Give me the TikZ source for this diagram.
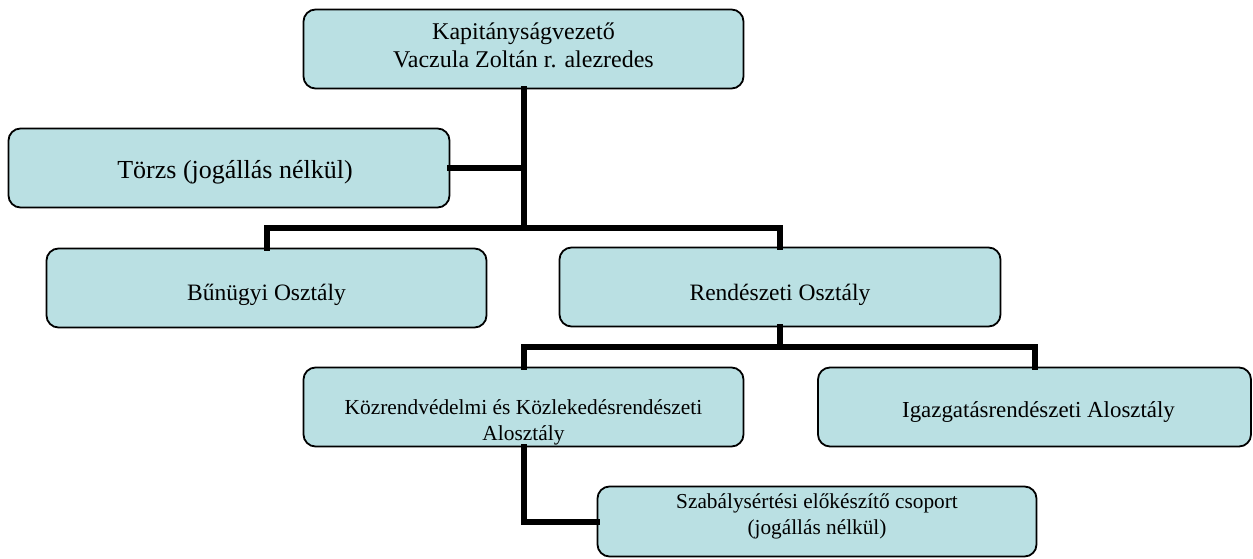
\documentclass[tikz,border=0pt]{standalone}
\usepackage{fontspec}
\setmainfont{Liberation Serif}
\definecolor{boxfill}{RGB}{186,224,227}
\tikzset{
  orgbox/.style={draw=black, line width=1.8pt, fill=boxfill, rounded corners=12pt,
    inner sep=0pt, minimum height=79pt},
  lbl/.style={inner sep=0pt, align=center, anchor=center},
  conn/.style={draw=black, line width=6pt, line join=miter, line cap=rect},
}
\begin{document}
\begin{tikzpicture}[x=1pt,y=-1pt]
\useasboundingbox (0,0) rectangle (1253,559);
% boxes
\node[orgbox, minimum width=440pt] (top) at (523.5,49) {};
\node[orgbox, minimum width=441pt] (torzs) at (229,168) {};
\node[orgbox, minimum width=440pt] (bun) at (266.5,288) {};
\node[orgbox, minimum width=441pt] (rend) at (780,287) {};
\node[orgbox, minimum width=440pt] (kozr) at (523.5,407) {};
\node[orgbox, minimum width=433pt] (igaz) at (1034.5,407) {};
\node[orgbox, minimum width=439pt, minimum height=70pt] (szab) at (817,521.5) {};
% texts
\node[lbl, font=\fontsize{24}{28}\selectfont] (topt) at ([yshift=3.5pt]top.center)
  {Kapitányságvezető\\Vaczula Zoltán r. alezredes};
\node[lbl, font=\fontsize{26}{29}\selectfont] (torzst) at ([xshift=6pt,yshift=-4pt]torzs.center)
  {Törzs (jogállás nélkül)};
\node[lbl, font=\fontsize{23.5}{28}\selectfont] (bunt) at ([yshift=-7pt]bun.center)
  {Bűnügyi Osztály};
\node[lbl, font=\fontsize{23.5}{28}\selectfont] (rendt) at ([yshift=-8pt]rend.center)
  {Rendészeti Osztály};
\node[lbl, font=\fontsize{21.4}{26}\selectfont] (kozrt) at ([yshift=-15pt]kozr.center)
  {Közrendvédelmi és Közlekedésrendészeti\\Alosztály};
\node[lbl, font=\fontsize{22.9}{27}\selectfont] (igazt) at ([xshift=4pt,yshift=-5pt]igaz.center)
  {Igazgatásrendészeti Alosztály};
\node[lbl, font=\fontsize{21.3}{26}\selectfont] (szabt) at ([yshift=5pt]szab.center)
  {Szabálysértési előkészítő csoport\\(jogállás nélkül)};
% connectors
\coordinate (b1) at (523.5,228);
\coordinate (b2) at (780,347);
\draw[conn] (top.south) -- (b1);
\draw[conn] (torzs.east) -- (torzs.east -| b1);
\draw[conn] (bun.north) |- (b1) -| (rend.north);
\draw[conn] (rend.south) -- (b2);
\draw[conn] (kozr.north) |- (b2) -| (igaz.north);
\draw[conn] (kozr.south) |- (szab.west);
\end{tikzpicture}
\end{document}
